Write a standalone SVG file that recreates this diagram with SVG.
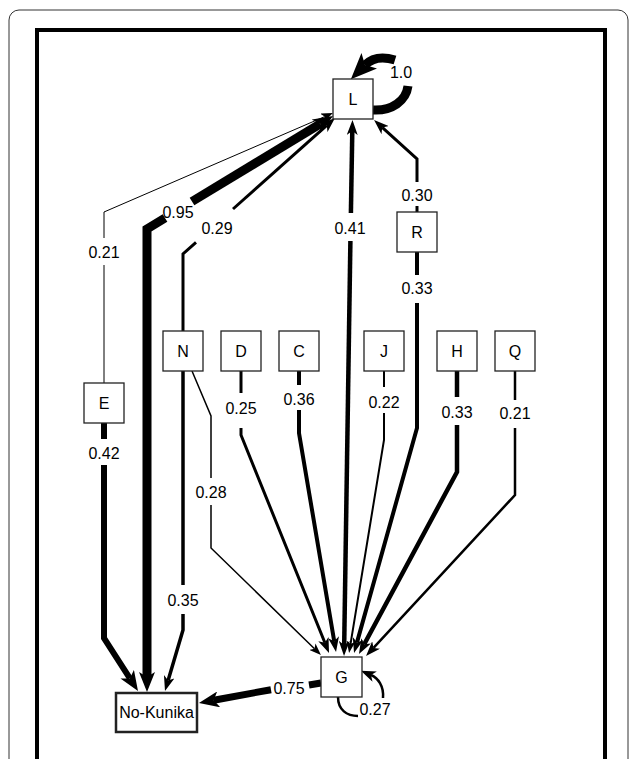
<svg xmlns="http://www.w3.org/2000/svg" width="629" height="759" viewBox="0 0 629 759">
<defs>
<marker id="arrS" viewBox="0 0 12 9" markerWidth="12" markerHeight="9" refX="3" refY="4.5" orient="auto" markerUnits="userSpaceOnUse"><path d="M0,0 L12,4.5 L0,9 L3,4.5 z" fill="#000"/></marker>
<marker id="arrM" viewBox="0 0 15 11" markerWidth="15" markerHeight="11" refX="4" refY="5.5" orient="auto" markerUnits="userSpaceOnUse"><path d="M0,0 L15,5.5 L0,11 L4,5.5 z" fill="#000"/></marker>
<marker id="arrL" viewBox="0 0 20 16" markerWidth="20" markerHeight="16" refX="5" refY="8" orient="auto" markerUnits="userSpaceOnUse"><path d="M0,0 L20,8 L0,16 L5,8 z" fill="#000"/></marker>
<marker id="arrXL" viewBox="0 0 26 22" markerWidth="26" markerHeight="22" refX="6" refY="11" orient="auto" markerUnits="userSpaceOnUse"><path d="M0,0 L26,11 L0,22 L6,11 z" fill="#000"/></marker>
</defs>
<style>
.box{fill:#fff;stroke:#222;stroke-width:1.3}
.nl{font-family:"Liberation Sans",Arial,sans-serif;font-size:16px;text-anchor:middle;fill:#000}
.el{font-family:"Liberation Sans",Arial,sans-serif;font-size:16px;text-anchor:middle;fill:#000}
.e{fill:none;stroke:#000;stroke-linejoin:miter}
</style>
<rect x="0" y="0" width="629" height="759" fill="#fff"/>
<rect x="9" y="10" width="619" height="780" rx="10" fill="none" stroke="#333" stroke-width="1"/>
<rect x="37" y="30" width="568" height="760" fill="none" stroke="#000" stroke-width="4"/>

<g id="connectors">
<!-- E to L -->
<path class="e" stroke-width="1" d="M104,383 V265"/>
<path class="e" stroke-width="1" d="M104,238 V212 L324.7,116.6" marker-end="url(#arrS)"/>
<text class="el" x="104" y="257.5">0.21</text>
<!-- E to No-Kunika -->
<path class="e" stroke-width="6" d="M104,423 V439"/>
<path class="e" stroke-width="6" d="M104,465 V638 L129.9,678.4" marker-end="url(#arrL)"/>
<text class="el" x="104" y="458.5">0.42</text>
<!-- L / No-Kunika 0.95 -->
<path class="e" stroke-width="9" d="M192,201.5 L320.2,123.8" marker-end="url(#arrL)"/>
<path class="e" stroke-width="9" d="M165,218 L147,229 V677" marker-end="url(#arrL)"/>
<text class="el" x="178" y="217.5">0.95</text>
<!-- N to L -->
<path class="e" stroke-width="3" d="M183,331 V254 L196,242.4"/>
<path class="e" stroke-width="3" d="M233,209 L326.8,125.3" marker-end="url(#arrM)"/>
<text class="el" x="217" y="233.5">0.29</text>
<!-- N to No-Kunika -->
<path class="e" stroke-width="3.5" d="M183,371 V585"/>
<path class="e" stroke-width="3.5" d="M183,614 V630 L168.1,680.5" marker-end="url(#arrM)"/>
<text class="el" x="183" y="605.5">0.35</text>
<!-- N to G -->
<path class="e" stroke-width="1.5" d="M192,371 L211,416 V478"/>
<path class="e" stroke-width="1.5" d="M211,505 V548 L314.5,648.7" marker-end="url(#arrS)"/>
<text class="el" x="211" y="497.5">0.28</text>
<!-- D to G -->
<path class="e" stroke-width="3" d="M241,371 V393"/>
<path class="e" stroke-width="3" d="M241,428 V435 L324.9,642.8" marker-end="url(#arrM)"/>
<text class="el" x="241" y="413.5">0.25</text>
<!-- C to G -->
<path class="e" stroke-width="4" d="M299,371 V385"/>
<path class="e" stroke-width="4" d="M299,410 V433 L334.2,641.2" marker-end="url(#arrM)"/>
<text class="el" x="299" y="404.5">0.36</text>
<!-- J to G -->
<path class="e" stroke-width="2" d="M384,371 V387"/>
<path class="e" stroke-width="2" d="M384,413 V440 L350.5,644.1" marker-end="url(#arrS)"/>
<text class="el" x="384" y="407.5">0.22</text>
<!-- H to G -->
<path class="e" stroke-width="4.5" d="M457,371 V397"/>
<path class="e" stroke-width="4.5" d="M457,425 V472 L364.2,644.3" marker-end="url(#arrM)"/>
<text class="el" x="457" y="417.5">0.33</text>
<!-- Q to G -->
<path class="e" stroke-width="2.5" d="M515,371 V400"/>
<path class="e" stroke-width="2.5" d="M515,428 V495 L373.5,647.9" marker-end="url(#arrM)"/>
<text class="el" x="515" y="418.5">0.21</text>
<!-- R to L -->
<path class="e" stroke-width="3" d="M417,212 V206"/>
<path class="e" stroke-width="3" d="M417,182 V159 L382.2,127.4" marker-end="url(#arrM)"/>
<text class="el" x="417" y="200.5">0.30</text>
<!-- R to G -->
<path class="e" stroke-width="4" d="M417,252 V275"/>
<path class="e" stroke-width="4" d="M417,303 V428 L357,642.4" marker-end="url(#arrM)"/>
<text class="el" x="417" y="293.5">0.33</text>
<!-- L / G 0.41 -->
<path class="e" stroke-width="4.5" d="M350.9,213 L352.3,131" marker-end="url(#arrM)"/>
<path class="e" stroke-width="4.5" d="M350.4,241 L344.2,645" marker-end="url(#arrM)"/>
<text class="el" x="350" y="233.5">0.41</text>
<!-- G to No-Kunika -->
<path class="e" stroke-width="7" d="M321,683 L309,685"/>
<path class="e" stroke-width="7" d="M271,689.7 L213.7,700.2" marker-end="url(#arrL)"/>
<text class="el" x="289" y="693.5">0.75</text>
<!-- G self loop -->
<path class="e" stroke-width="2.5" d="M338,697 C338,710 347,716 358,716"/>
<path class="e" stroke-width="2.5" d="M383,698 C384,686 378,678 371,675" marker-end="url(#arrM)"/>
<text class="el" x="375" y="714.5">0.27</text>
<!-- L self loop -->
<path class="e" stroke-width="9" d="M373,110 C392,111 406,101 408,86"/>
<path class="e" stroke-width="9" d="M395,60 C382,56 372,58 365,65" marker-end="url(#arrXL)"/>
<text class="el" x="401" y="77.5">1.0</text>
</g>

<g id="node-L"><rect class="box" x="333" y="79" width="40" height="40"/><text class="nl" x="353" y="104.8">L</text></g>
<g id="node-R"><rect class="box" x="397" y="212" width="40" height="40"/><text class="nl" x="417" y="237.8">R</text></g>
<g id="node-N"><rect class="box" x="163" y="331" width="40" height="40"/><text class="nl" x="183" y="356.8">N</text></g>
<g id="node-D"><rect class="box" x="221" y="331" width="40" height="40"/><text class="nl" x="241" y="356.8">D</text></g>
<g id="node-C"><rect class="box" x="279" y="331" width="40" height="40"/><text class="nl" x="299" y="356.8">C</text></g>
<g id="node-J"><rect class="box" x="364" y="331" width="40" height="40"/><text class="nl" x="384" y="356.8">J</text></g>
<g id="node-H"><rect class="box" x="437" y="331" width="40" height="40"/><text class="nl" x="457" y="356.8">H</text></g>
<g id="node-Q"><rect class="box" x="495" y="331" width="40" height="40"/><text class="nl" x="515" y="356.8">Q</text></g>
<g id="node-E"><rect class="box" x="84" y="383" width="40" height="40"/><text class="nl" x="104" y="408.8">E</text></g>
<g id="node-G"><rect class="box" x="321" y="657" width="41" height="40"/><text class="nl" x="341.5" y="682.8">G</text></g>
<g id="node-NoKunika"><rect class="box" x="116" y="693" width="81" height="39" style="stroke-width:2.5"/><text class="nl" x="156.5" y="718.3">No-Kunika</text></g>
</svg>
